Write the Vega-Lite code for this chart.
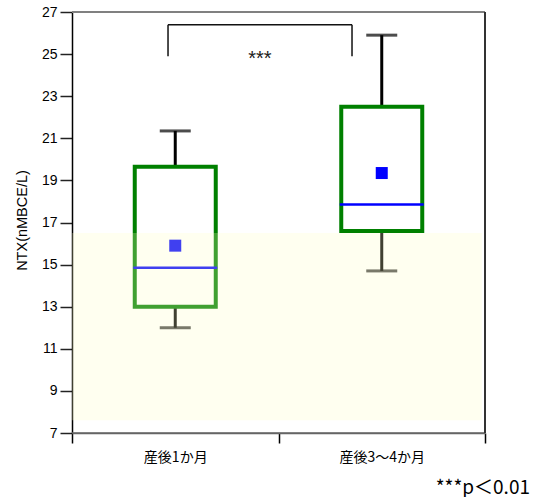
{
  "$schema": "https://vega.github.io/schema/vega-lite/v6.json",
  "width": 413,
  "height": 421,
  "autosize": {"type": "none"},
  "padding": {"left": 72, "top": 12, "right": 51, "bottom": 64},
  "background": "#ffffff",
  "config": {"view": {"stroke": null}, "font": "Liberation Sans"},
  "title": {"text": "***p＜0.01", "orient": "bottom", "anchor": "end", "fontSize": 19, "fontWeight": "normal", "font": "Noto Sans CJK JP", "color": "#000000", "offset": 15, "dx": 44},
  "resolve": {"scale": {"x": "independent"}},
  "layer": [
    {
      "data": {"values": [
        {"period": "産後1か月", "min": 12.0, "q1": 13.0, "median": 14.85, "q3": 19.65, "max": 21.35, "mean": 15.9},
        {"period": "産後3〜4か月", "min": 14.7, "q1": 16.6, "median": 17.85, "q3": 22.5, "max": 25.9, "mean": 19.35}
      ]},
      "encoding": {
        "x": {"field": "period", "type": "nominal", "sort": null, "scale": {"paddingInner": 0, "paddingOuter": 0},
          "axis": {"title": null, "labelAngle": 0, "tickBand": "extent", "domain": true, "tickSize": 10, "tickColor": "#000000", "tickWidth": 1.5, "domainColor": "#666666", "domainWidth": 1.5, "labelFont": "Noto Sans CJK JP", "labelFontSize": 14, "labelPadding": 7, "labelColor": "#000000"}}
      },
      "layer": [
        {"mark": {"type": "rule", "color": "#000000", "strokeWidth": 3},
         "encoding": {"y": {"field": "min", "type": "quantitative", "title": "NTX(nMBCE/L)", "scale": {"domain": [7, 27], "nice": false, "zero": false},
           "axis": {"title": "NTX(nMBCE/L)", "values": [7,7.5,8,8.5,9,9.5,10,10.5,11,11.5,12,12.5,13,13.5,14,14.5,15,15.5,16,16.5,17,17.5,18,18.5,19,19.5,20,20.5,21,21.5,22,22.5,23,23.5,24,24.5,25,25.5,26,26.5,27],
             "labelExpr": "datum.value % 2 == 1 ? datum.label : ''", "labelOverlap": false,
             "tickSize": {"condition": {"test": "datum.value % 2 == 1", "value": 12}, "value": 5},
             "tickColor": "#222222", "tickWidth": 1.5, "domainColor": "#000000", "domainWidth": 1.5, "grid": false,
             "labelFontSize": 14, "labelColor": "#000000", "labelPadding": 3, "labelFont": "Liberation Sans",
             "titleFontSize": 14.5, "titleFontWeight": "normal", "titleColor": "#000000", "titleFont": "Liberation Sans", "titleX": -43, "titleY": 208}},
           "y2": {"field": "q1"}}},
        {"mark": {"type": "rule", "color": "#000000", "strokeWidth": 3},
         "encoding": {"y": {"field": "q3", "type": "quantitative", "title": "NTX(nMBCE/L)"}, "y2": {"field": "max"}}},
        {"mark": {"type": "tick", "color": "#000000", "thickness": 3, "size": 31},
         "encoding": {"y": {"field": "max", "type": "quantitative", "title": "NTX(nMBCE/L)"}}},
        {"mark": {"type": "tick", "color": "#000000", "thickness": 3, "size": 31},
         "encoding": {"y": {"field": "min", "type": "quantitative", "title": "NTX(nMBCE/L)"}}},
        {"mark": {"type": "bar", "filled": false, "stroke": "#008000", "strokeWidth": 4, "width": 81},
         "encoding": {"y": {"field": "q1", "type": "quantitative", "title": "NTX(nMBCE/L)"}, "y2": {"field": "q3"}}},
        {"mark": {"type": "tick", "color": "#0000ff", "thickness": 2.5, "size": 84, "opacity": 1},
         "encoding": {"y": {"field": "median", "type": "quantitative", "title": "NTX(nMBCE/L)"}}},
        {"mark": {"type": "square", "filled": true, "color": "#0000ff", "size": 144, "opacity": 1},
         "encoding": {"y": {"field": "mean", "type": "quantitative", "title": "NTX(nMBCE/L)"}}}
      ]
    },
    {
      "layer": [
        {"data": {"values": [{"x": 0, "x2": 1.985, "lo": 7.6, "hi": 16.5}]},
         "mark": {"type": "rect", "fill": "#ffffc3", "opacity": 0.25},
         "encoding": {"x": {"field": "x", "type": "quantitative", "scale": {"domain": [0, 2]}, "axis": null}, "x2": {"field": "x2"},
           "y": {"field": "lo", "type": "quantitative", "title": "NTX(nMBCE/L)"}, "y2": {"field": "hi"}}},
        {"data": {"values": [
          {"x": 0.465, "x2": 1.356, "y": 26.4, "y2": 26.4},
          {"x": 0.465, "x2": 0.465, "y": 26.4, "y2": 24.9},
          {"x": 1.356, "x2": 1.356, "y": 26.4, "y2": 24.9}
         ]},
         "mark": {"type": "rule", "color": "#111111", "strokeWidth": 1.5},
         "encoding": {"x": {"field": "x", "type": "quantitative", "scale": {"domain": [0, 2]}, "axis": null}, "x2": {"field": "x2"},
           "y": {"field": "y", "type": "quantitative", "title": "NTX(nMBCE/L)"}, "y2": {"field": "y2"}}},
        {"data": {"values": [{"x": 0.91, "y": 24.75, "label": "***"}]},
         "mark": {"type": "text", "fontSize": 20, "color": "#222222", "font": "Liberation Sans"},
         "encoding": {"x": {"field": "x", "type": "quantitative", "scale": {"domain": [0, 2]}, "axis": null},
           "y": {"field": "y", "type": "quantitative", "title": "NTX(nMBCE/L)"},
           "text": {"field": "label"}}},
        {"data": {"values": [{"y": 27, "edge": "top"}]},
         "mark": {"type": "rule", "color": "#808080", "strokeWidth": 2},
         "encoding": {"y": {"field": "y", "type": "quantitative", "title": "NTX(nMBCE/L)"}}},
        {"data": {"values": [{"y": 7, "edge": "bottom"}]},
         "mark": {"type": "rule", "color": "#666666", "strokeWidth": 1.5},
         "encoding": {"y": {"field": "y", "type": "quantitative", "title": "NTX(nMBCE/L)"}}},
        {"data": {"values": [{"x": 2, "y": 27, "y2": 7}]},
         "mark": {"type": "rule", "color": "#333333", "strokeWidth": 2},
         "encoding": {"x": {"field": "x", "type": "quantitative", "scale": {"domain": [0, 2]}, "axis": null},
           "y": {"field": "y", "type": "quantitative", "title": "NTX(nMBCE/L)"}, "y2": {"field": "y2"}}}
      ]
    }
  ]
}
